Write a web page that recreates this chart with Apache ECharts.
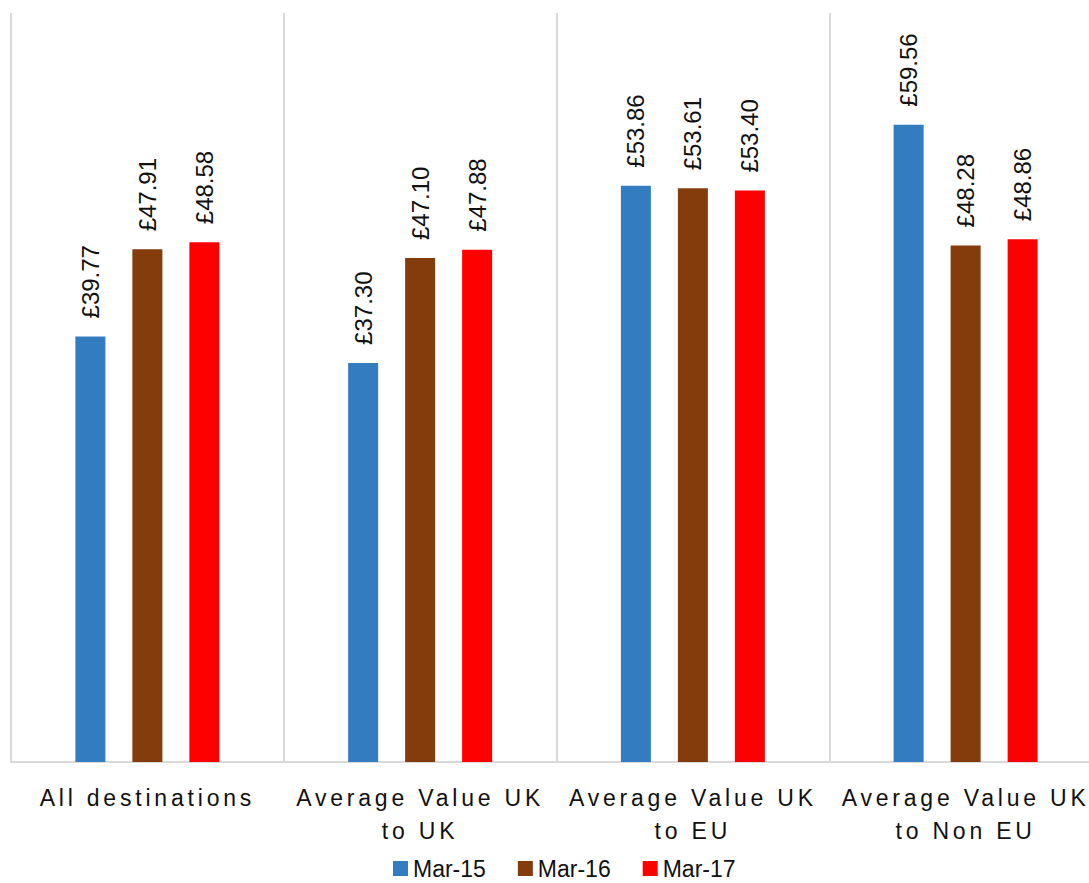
<!DOCTYPE html>
<html>
<head>
<meta charset="utf-8">
<title>Average value by destination</title>
<script src="https://cdn.jsdelivr.net/npm/echarts@6/dist/echarts.min.js"></script>
<style>
  html, body { margin: 0; padding: 0; background: #fff; overflow: hidden; }
  /* the plot runs slightly past the right edge of the page */
  #chart { width: 1110px; height: 883px; }
  /* category labels are drawn with wide tracking */
  #chart text[style*="Arial"] { letter-spacing: 3.8px; }
</style>
</head>
<body>
<div id="chart"></div>
<script>
// Categories along the x axis
const categories = [
  'All destinations',
  'Average Value UK to UK',
  'Average Value UK to EU',
  'Average Value UK to Non EU'
];
// Series names and values (£)
const seriesNames = ['Mar-15', 'Mar-16', 'Mar-17'];
const mar15 = [39.77, 37.30, 53.86, 59.56];
const mar16 = [47.91, 47.10, 53.61, 48.28];
const mar17 = [48.58, 47.88, 53.40, 48.86];
const seriesColors = ['#337CC0', '#843C0C', '#FF0000'];

const chart = echarts.init(document.getElementById('chart'), null, { renderer: 'svg' });

function barSeries(name, data, color) {
  return {
    name: name,
    type: 'bar',
    data: data,
    barWidth: 30,
    barGap: '90%',
    itemStyle: { color: color },
    label: {
      show: true,
      position: 'top',
      distance: 18,
      rotate: 90,
      align: 'left',
      verticalAlign: 'middle',
      fontFamily: 'Liberation Sans',
      fontSize: 24,
      color: '#111',
      formatter: p => '£' + p.value.toFixed(2)
    }
  };
}

chart.setOption({
  animation: false,
  backgroundColor: '#fff',
  grid: { left: 11, right: 8, top: 13, bottom: 121 },
  legend: {
    data: seriesNames,
    left: 388,
    top: 852,
    icon: 'rect',
    itemWidth: 15,
    itemHeight: 15,
    itemGap: 32,
    textStyle: { fontFamily: 'Liberation Sans', fontSize: 23, color: '#111' }
  },
  xAxis: {
    type: 'category',
    data: categories,
    axisTick: { show: false },
    axisLine: { lineStyle: { color: '#d9d9d9', width: 2 } },
    splitLine: { show: true, lineStyle: { color: '#d9d9d9', width: 2 } },
    axisLabel: {
      interval: 0,
      margin: 19,
      fontFamily: 'Liberation Sans, Arial',
      fontSize: 23,
      lineHeight: 33,
      color: '#111',
      formatter: v => v.replace(' to ', '\nto ')
    }
  },
  yAxis: {
    type: 'value',
    min: 0,
    max: 70,
    show: false
  },
  series: [
    barSeries(seriesNames[0], mar15, seriesColors[0]),
    barSeries(seriesNames[1], mar16, seriesColors[1]),
    barSeries(seriesNames[2], mar17, seriesColors[2])
  ]
});
</script>
</body>
</html>
